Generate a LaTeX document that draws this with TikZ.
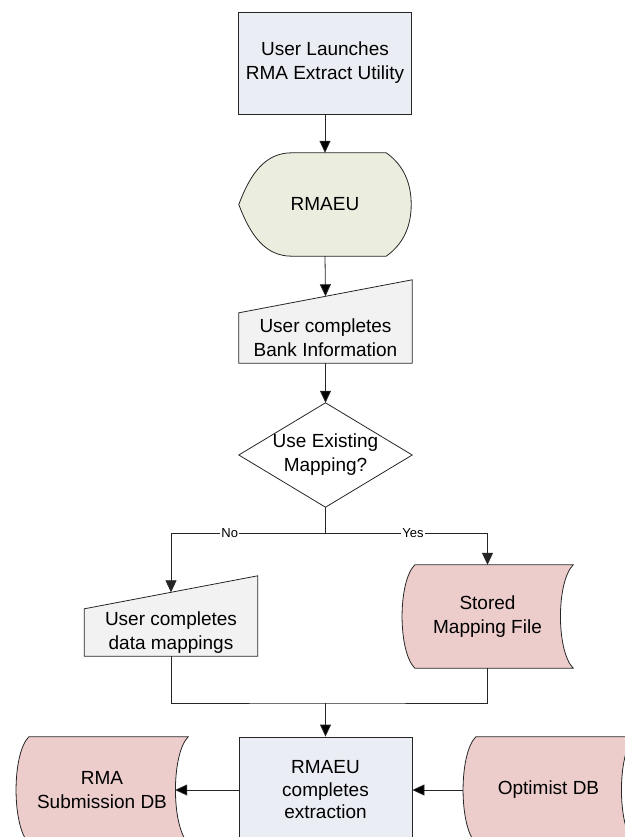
\documentclass[tikz,border=0pt]{standalone}
\usepackage{fontspec}
\setmainfont{Liberation Sans}
\usepackage{tikz}
\usepackage{xcolor}
\usetikzlibrary{arrows.meta, calc, backgrounds, positioning}

\definecolor{procfill}{RGB}{234,238,244}
\definecolor{dispfill}{RGB}{235,238,222}
\definecolor{manfill}{RGB}{242,242,242}
\definecolor{storefill}{RGB}{236,205,204}

\tikzset{
    >={Triangle[length=12pt, width=11pt]},
    outline/.style={draw=black!85, line width=0.8pt},
    proc/.style={outline, fill=procfill, align=center, inner sep=0pt, minimum width=173pt},
    shapetext/.style={align=center, inner sep=0pt},
    flow/.style={draw=black!85, line width=0.8pt},
    branchlabel/.style={fill=white, inner sep=1pt, font=\fontsize{13}{15}\selectfont}
}

% stored data outline round a node
\newcommand{\storedpath}[1]{%
    \draw[outline, fill=storefill]
    ($(#1.north west) + (13, 0)$) -- (#1.north east)
    .. controls +(-17, 17) and +(-17, -17) .. (#1.south east)
    -- ($(#1.south west) + (13, 0)$)
    .. controls +(-17, -17) and +(-17, 17) .. ($(#1.north west) + (13, 0)$) -- cycle;}

\begin{document}
\begin{tikzpicture}[x=1pt, y=-1pt, every node/.style={font=\fontsize{19}{24}\selectfont}]
                    \clip (0, 0) rectangle (624, 837);

                    \node[proc, minimum height=102pt] (launch) at (325, 63) {User Launches\\RMA Extract Utility};
                    \node[shapetext, minimum width=172pt, minimum height=103pt] (rmaeu) at (325, 204.5) {RMAEU};
                    \node[shapetext, minimum width=173pt, minimum height=50pt] (bank) at (325.5, 338) {User completes\\Bank Information};
                    \node[shapetext, minimum width=173pt, minimum height=104pt] (decide) at (325.5, 455) {Use Existing\\Mapping?};
                    \node[shapetext, minimum width=173pt, minimum height=47pt] (maps) at (171, 632.5) {User completes\\data mappings};
                    \node[shapetext, minimum width=171pt, minimum height=103pt] (stored) at (487.5, 616.5) {Stored\\Mapping File};
                    \node[proc, minimum height=106pt, font=\fontsize{19}{22.5}\selectfont] (extract) at (325.5, 790) {RMAEU\\completes\\extraction};
                    \node[shapetext, minimum width=171pt, minimum height=106pt] (optimist) at (548.5, 790) {Optimist DB};
                    \node[shapetext, minimum width=172pt, minimum height=106pt] (submit) at (102, 790) {RMA\\Submission DB};

                    \coordinate (bankin) at ($(bank.north) + (0, -16.5)$);
                    \coordinate (split) at (325.5, 533);
                    \coordinate (mapsin) at ($(maps.north) + (0, -16.5)$);
                    \coordinate (merge) at (325.5, 703);
                    \coordinate (submitin) at ($(submit.east) + (-13, 0)$);

                    \begin{scope}[on background layer]
                        \draw[outline, fill=dispfill]
                        (rmaeu.west) .. controls +(12, -32) and +(-26, 0) .. ($(rmaeu.north west) + (53, 0)$)
                        -- ($(rmaeu.north east) + (-25, 0)$) .. controls +(17, 12) and +(0, -22) .. (rmaeu.east)
                        .. controls +(0, 22) and +(17, -12) .. ($(rmaeu.south east) + (-25, 0)$)
                        -- ($(rmaeu.south west) + (53, 0)$) .. controls +(-26, 0) and +(12, 32) .. (rmaeu.west) -- cycle;

                        \draw[outline, fill=manfill]
                        (bank.south west) -- (bank.north west) -- ($(bank.north east) + (0, -33)$) -- (bank.south east) -- cycle;
                        \draw[outline, fill=white]
                        (decide.north) -- (decide.east) -- (decide.south) -- (decide.west) -- cycle;
                        \draw[outline, fill=manfill]
                        (maps.south west) -- (maps.north west) -- ($(maps.north east) + (0, -33)$) -- (maps.south east) -- cycle;

                        \storedpath{stored}
                        \storedpath{optimist}
                        \storedpath{submit}
                    \end{scope}

                    \draw[flow]
                    (launch.south) edge[->] (rmaeu.north)
                    (rmaeu.south) edge[->] (bankin)
                    (bank.south) edge[->] (decide.north)
                    (decide.south) -- (split);

                    \draw[flow, ->] (split) -| node[branchlabel, pos=0.31] {No} (mapsin);
                    \draw[flow, ->] (split) -| node[branchlabel, pos=0.27] {Yes} (stored.north);

                    \draw[flow] (maps.south) |- (merge) -| (stored.south);
                    \draw[flow]
                    (merge) edge[->] (extract.north)
                    (optimist.west) edge[->] (extract.east)
                    (extract.west) edge[->] (submitin);
                \end{tikzpicture}
\end{document}
